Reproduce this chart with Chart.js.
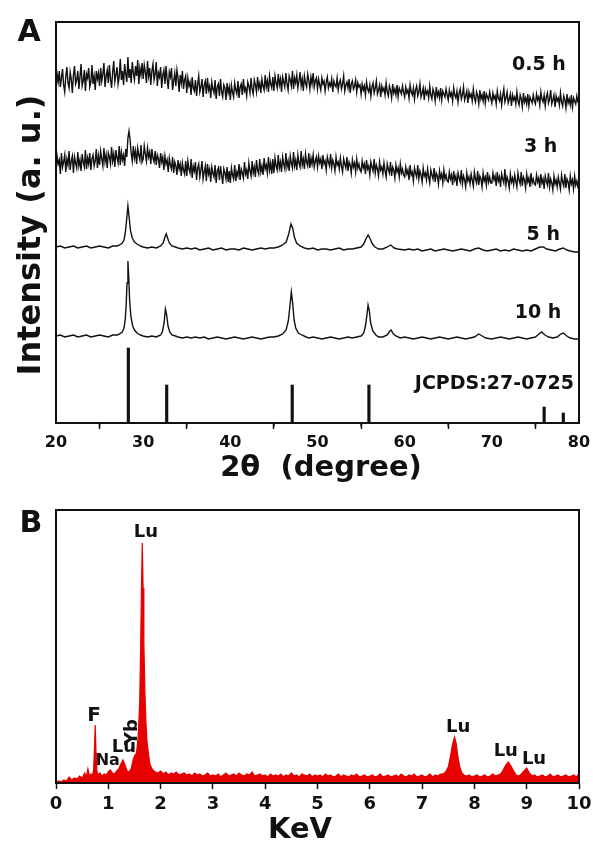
<!DOCTYPE html>
<html>
<head>
<meta charset="utf-8">
<script src="https://cdn.jsdelivr.net/npm/chart.js@4.4.1/dist/chart.umd.min.js"></script>
<style>
  html, body { margin: 0; background: #fff; }
  canvas { position: absolute; left: 0; }
  #xrd { top: 0; }
  #eds { top: 490px; }
</style>
</head>
<body>
<canvas id="xrd" width="593" height="490"></canvas>
<canvas id="eds" width="593" height="352"></canvas>
<script>
const FONT = 'DejaVu Sans';
const INK = '#111';

// ---- Panel A: XRD (2θ 20..80, stacked curves, intensity in a.u.) ----
const thetaStart = 20, thetaStep = 0.125;

// 0.5 h and 3 h: amorphous, noisy, one row per 5°
const i05h = [
  333, 349, 341, 352, 336, 345, 354, 338, 331, 347, 356, 340, 335, 351, 344, 330, 348, 357, 339, 343,
  352, 334, 346, 359, 337, 342, 353, 332, 349, 345, 355, 336, 341, 358, 339, 347, 333, 352, 344, 350,
  337, 355, 342, 349, 360, 336, 347, 353, 340, 358, 344, 335, 351, 362, 341, 348, 356, 339, 346, 364,
  343, 352, 338, 359, 349, 341, 366, 345, 354, 340, 361, 350, 343, 357, 347, 363, 339, 355, 348, 360,
  344, 358, 351, 340, 362, 347, 355, 338, 352, 359, 343, 349, 361, 337, 350, 346, 356, 335, 348, 353,
  339, 357, 344, 334, 351, 346, 355, 333, 342, 350, 337, 353, 345, 331, 348, 340, 352, 334, 343, 347,
  330, 345, 337, 341, 328, 346, 335, 332, 343, 327, 339, 347, 331, 336, 344, 326, 338, 342, 329, 345,
  333, 337, 325, 341, 334, 330, 343, 324, 336, 339, 327, 344, 331, 326, 338, 335, 323, 340, 330, 336,
  323, 338, 331, 326, 340, 333, 329, 342, 325, 336, 339, 328, 344, 332, 335, 327, 341, 337, 330, 345,
  334, 329, 343, 338, 331, 346, 335, 340, 330, 344, 337, 333, 348, 336, 342, 331, 347, 339, 335, 346,
  332, 347, 340, 335, 349, 338, 344, 331, 346, 341, 336, 350, 339, 333, 347, 343, 337, 352, 334, 345,
  340, 348, 335, 342, 351, 337, 344, 332, 347, 340, 336, 349, 343, 334, 346, 339, 350, 336, 342, 345,
  334, 344, 338, 333, 345, 339, 342, 332, 341, 346, 335, 340, 337, 344, 331, 342, 338, 336, 345, 333,
  340, 343, 334, 339, 347, 332, 338, 341, 335, 344, 330, 339, 342, 334, 337, 343, 331, 340, 336, 338,
  329, 339, 333, 337, 328, 341, 334, 331, 338, 327, 336, 340, 330, 335, 342, 329, 333, 338, 326, 337,
  332, 335, 328, 340, 331, 327, 337, 333, 325, 339, 330, 334, 328, 338, 326, 335, 332, 329, 337, 331,
  326, 336, 330, 333, 325, 338, 331, 328, 335, 324, 333, 337, 327, 331, 339, 326, 330, 335, 323, 334,
  329, 332, 325, 337, 328, 324, 334, 330, 322, 336, 327, 331, 325, 335, 323, 332, 329, 326, 334, 328,
  323, 333, 327, 330, 322, 335, 328, 325, 332, 321, 330, 334, 324, 328, 336, 323, 327, 332, 320, 331,
  326, 329, 322, 334, 325, 321, 331, 327, 319, 333, 324, 328, 322, 332, 320, 329, 326, 323, 331, 325,
  320, 330, 324, 327, 319, 332, 325, 322, 329, 318, 327, 334, 321, 325, 331, 320, 324, 329, 317, 328,
  323, 326, 319, 331, 322, 318, 328, 324, 316, 330, 321, 325, 319, 329, 317, 326, 323, 320, 328, 322,
  319, 329, 323, 326, 318, 331, 324, 321, 328, 317, 326, 330, 320, 324, 333, 319, 323, 328, 316, 327,
  322, 325, 318, 330, 321, 317, 327, 323, 315, 329, 320, 324, 318, 328, 316, 325, 322, 319, 327, 321,
  322
];
const i3h = [
  252, 267, 259, 263, 249, 270, 256, 261, 268, 251, 264, 258, 272, 253, 262, 267, 250, 266, 260, 255,
  271, 257, 263, 252, 269, 261, 256, 273, 254, 265, 259, 270, 253, 264, 268, 257, 262, 274, 255, 267,
  258, 272, 264, 257, 275, 261, 268, 255, 270, 266, 259, 276, 262, 269, 256, 273, 265, 260, 277, 258,
  271, 263, 268, 257, 274, 266, 285, 292, 283, 270, 262, 277, 265, 272, 259, 275, 268, 263, 278, 261,
  264, 277, 269, 262, 275, 266, 271, 259, 274, 265, 261, 272, 258, 268, 264, 255, 270, 261, 266, 253,
  267, 259, 263, 251, 265, 258, 254, 266, 250, 261, 257, 248, 263, 254, 259, 247, 260, 253, 249, 262,
  247, 262, 254, 250, 264, 245, 257, 252, 261, 243, 255, 259, 246, 253, 262, 244, 251, 257, 242, 259,
  249, 254, 241, 256, 250, 246, 258, 240, 252, 255, 243, 257, 248, 239, 254, 250, 244, 256, 241, 252,
  240, 255, 248, 244, 258, 242, 251, 247, 259, 243, 254, 250, 245, 261, 249, 253, 244, 260, 252, 247,
  262, 250, 256, 246, 263, 253, 249, 264, 251, 257, 248, 265, 254, 258, 250, 266, 253, 260, 249, 264,
  250, 265, 257, 253, 268, 255, 261, 251, 266, 259, 254, 270, 256, 262, 252, 267, 260, 255, 271, 257,
  263, 253, 268, 260, 256, 272, 258, 264, 254, 269, 261, 257, 270, 255, 265, 259, 268, 256, 262, 266,
  256, 267, 260, 264, 254, 268, 259, 262, 253, 266, 261, 257, 269, 255, 263, 259, 252, 266, 258, 261,
  254, 265, 257, 251, 264, 259, 255, 266, 252, 261, 258, 250, 263, 256, 260, 251, 264, 255, 259, 253,
  251, 262, 255, 259, 249, 263, 254, 257, 248, 261, 256, 252, 264, 250, 258, 254, 247, 261, 253, 256,
  249, 260, 252, 246, 259, 254, 250, 261, 247, 256, 253, 245, 258, 251, 255, 246, 259, 250, 254, 248,
  246, 256, 249, 253, 243, 258, 248, 251, 242, 255, 250, 246, 258, 244, 252, 248, 241, 255, 247, 250,
  243, 254, 246, 240, 253, 248, 244, 255, 241, 250, 247, 239, 252, 245, 249, 240, 253, 244, 248, 242,
  241, 251, 244, 248, 238, 252, 243, 247, 237, 250, 245, 241, 253, 239, 247, 243, 236, 250, 242, 246,
  239, 249, 243, 237, 251, 244, 240, 252, 238, 247, 244, 236, 250, 242, 246, 238, 251, 241, 246, 240,
  240, 250, 243, 247, 237, 251, 242, 246, 236, 249, 244, 240, 254, 238, 246, 242, 235, 249, 241, 245,
  238, 248, 242, 236, 250, 243, 239, 251, 237, 246, 243, 235, 249, 241, 245, 236, 250, 240, 244, 239,
  238, 248, 241, 245, 235, 249, 240, 244, 234, 247, 242, 238, 250, 236, 244, 240, 233, 247, 239, 243,
  236, 246, 240, 234, 248, 241, 237, 249, 235, 244, 241, 233, 247, 239, 243, 234, 247, 238, 242, 236,
  238
];

// 5 h and 10 h: crystalline, [2θ, intensity]
const h5 = [
  [20,176],[20.5,177],[21,175],[21.5,176],[22,177],[22.5,175],[23,176],[23.5,177],[24,175],[24.5,176],
  [25,177],[25.5,176],[26,175],[26.5,177],[27,177],[27.3,178],[27.6,180],[27.8,183],[27.95,190],[28.1,203],
  [28.25,217],[28.4,205],[28.55,192],[28.75,185],[29,181],[29.3,179],[29.7,177],[30,176],[30.5,175],[31,176],
  [31.5,175],[32,177],[32.3,180],[32.5,186],[32.65,189],[32.8,185],[33,180],[33.3,177],[33.7,176],[34,175],
  [34.5,174],[35,175],[35.5,174],[36,175],[36.5,173],[37,174],[37.5,175],[38,173],[38.5,174],[39,175],
  [39.5,173],[40,174],[40.5,174],[41,173],[41.5,175],[42,174],[42.5,173],[43,174],[43.5,175],[44,174],
  [44.5,175],[45,175],[45.5,176],[46,178],[46.4,181],[46.7,189],[46.95,199],[47.15,195],[47.35,186],[47.6,180],
  [48,177],[48.5,175],[49,174],[49.5,175],[50,173],[50.5,174],[51,174],[51.5,173],[52,174],[52.5,175],
  [53,173],[53.5,174],[54,174],[54.5,175],[55,176],[55.3,179],[55.55,184],[55.8,188],[56.05,184],[56.3,179],
  [56.6,176],[57,174],[57.5,174],[58,176],[58.4,178],[58.8,175],[59.2,174],[60,173],[60.5,174],[61,173],
  [61.5,174],[62,172],[62.5,173],[63,174],[63.5,172],[64,173],[64.5,174],[65,173],[65.5,172],[66,173],
  [66.5,174],[67,173],[67.5,172],[68,174],[68.5,175],[69,173],[69.5,172],[70,173],[70.5,174],[71,172],
  [71.5,173],[72,172],[72.5,174],[73,173],[73.5,172],[74,173],[74.5,172],[75,174],[75.5,176],[75.9,176],
  [76.3,174],[76.8,173],[77.3,172],[77.8,174],[78.2,175],[78.6,173],[79,172],[79.5,171],[80,171]
];
const h10 = [
  [20,87],[20.5,88],[21,86],[21.5,87],[22,88],[22.5,86],[23,87],[23.5,88],[24,86],[24.5,87],
  [25,88],[25.5,87],[26,86],[26.5,88],[27,88],[27.3,89],[27.6,91],[27.8,95],[27.95,104],[28.05,118],
  [28.15,140],[28.25,162],[28.35,145],[28.45,122],[28.6,106],[28.8,97],[29,93],[29.3,90],[29.7,88],[30,87],
  [30.5,86],[31,87],[31.5,86],[32,88],[32.2,91],[32.4,100],[32.55,114],[32.7,108],[32.85,97],[33.05,91],
  [33.3,88],[33.7,87],[34,86],[34.5,85],[35,86],[35.5,85],[36,86],[36.5,85],[37,86],[37.5,84],
  [38,85],[38.5,86],[39,85],[39.5,84],[40,85],[40.5,86],[41,85],[41.5,84],[42,85],[42.5,86],
  [43,85],[43.5,84],[44,85],[44.5,86],[45,86],[45.5,87],[46,89],[46.4,93],[46.65,102],[46.85,118],
  [47,131],[47.15,120],[47.3,104],[47.5,95],[47.8,90],[48.2,88],[48.7,86],[49,85],[49.5,86],[50,85],
  [50.5,84],[51,85],[51.5,86],[52,85],[52.5,84],[53,85],[53.5,86],[54,85],[54.5,86],[55,87],
  [55.3,90],[55.5,97],[55.7,110],[55.8,118],[55.95,112],[56.1,100],[56.35,92],[56.7,88],[57,86],[57.5,86],
  [58,88],[58.3,92],[58.45,93],[58.7,89],[59,87],[59.5,85],[60,86],[60.5,85],[61,84],[61.5,85],
  [62,86],[62.5,85],[63,84],[63.5,85],[64,86],[64.5,85],[65,84],[65.5,85],[66,86],[66.5,85],
  [67,84],[67.5,85],[68,86],[68.5,89],[68.9,87],[69.3,85],[70,84],[70.5,85],[71,86],[71.5,85],
  [72,84],[72.5,85],[73,86],[73.5,85],[74,84],[74.5,85],[75,86],[75.4,89],[75.7,91],[76.1,88],
  [76.5,86],[77,85],[77.5,86],[77.9,89],[78.2,90],[78.6,87],[79,85],[79.5,84],[80,84]
];

// JCPDS 27-0725 reference lines [2θ, relative height]
const jcpds = [[28.3,75],[32.7,38],[47.1,38],[55.9,38],[76.0,16],[78.2,10]];

const xrdMinor = [25, 35, 45, 55, 65, 75];
const xrdNotes = [
  { text: '0.5 h', x: 75.4, y: 358, size: 19 },
  { text: '3 h', x: 75.6, y: 276, size: 19 },
  { text: '5 h', x: 75.9, y: 188, size: 19 },
  { text: '10 h', x: 75.3, y: 110, size: 19 },
  { text: 'JCPDS:27-0725', x: 70.3, y: 39, size: 19 }
];

// ---- Panel B: EDS spectrum [keV, counts] ----
const eds = [
  [0,1],[0.05,2],[0.1,1],[0.15,3],[0.2,2],[0.25,6],[0.3,3],[0.35,5],[0.4,4],[0.45,7],
  [0.5,5],[0.55,10],[0.58,6],[0.61,14],[0.64,7],[0.67,9],[0.7,8],[0.72,14],[0.735,34],[0.75,58],
  [0.765,30],[0.78,13],[0.8,8],[0.84,10],[0.88,7],[0.92,9],[0.96,8],[1,11],[1.04,13],[1.08,10],
  [1.12,9],[1.16,12],[1.2,14],[1.24,19],[1.28,23],[1.32,18],[1.36,12],[1.4,11],[1.44,15],[1.48,24],
  [1.51,28],[1.54,30],[1.57,45],[1.6,80],[1.62,140],[1.635,200],[1.65,240],[1.665,195],[1.68,140],[1.7,90],
  [1.72,60],[1.74,42],[1.77,28],[1.8,18],[1.85,13],[1.9,11],[1.95,10],
  [2,12],[2.05,9],[2.1,11],[2.15,8],[2.2,10],[2.25,9],[2.3,11],[2.35,8],[2.4,9],[2.45,10],
  [2.5,8],[2.55,9],[2.6,7],[2.65,10],[2.7,8],[2.75,9],[2.8,7],[2.85,8],[2.9,10],[2.95,7],
  [3,8],[3.05,7],[3.1,9],[3.15,6],[3.2,8],[3.25,10],[3.3,7],[3.35,8],[3.4,9],[3.45,7],
  [3.5,10],[3.55,8],[3.6,7],[3.65,9],[3.7,8],[3.75,11],[3.8,7],[3.85,8],[3.9,9],[3.95,7],
  [4,8],[4.05,6],[4.1,9],[4.15,7],[4.2,8],[4.25,7],[4.3,9],[4.35,6],[4.4,8],[4.45,7],
  [4.5,10],[4.55,7],[4.6,8],[4.65,6],[4.7,9],[4.75,8],[4.8,7],[4.85,9],[4.9,6],[4.95,8],
  [5,7],[5.05,8],[5.1,6],[5.15,9],[5.2,7],[5.25,8],[5.3,6],[5.35,7],[5.4,9],[5.45,6],
  [5.5,8],[5.55,7],[5.6,6],[5.65,8],[5.7,7],[5.75,9],[5.8,6],[5.85,7],[5.9,8],[5.95,6],
  [6,7],[6.05,8],[6.1,6],[6.15,7],[6.2,9],[6.25,6],[6.3,7],[6.35,8],[6.4,6],[6.45,7],
  [6.5,8],[6.55,6],[6.6,9],[6.65,7],[6.7,6],[6.75,8],[6.8,7],[6.85,9],[6.9,6],[6.95,7],
  [7,8],[7.05,6],[7.1,7],[7.15,9],[7.2,6],[7.25,8],[7.3,7],[7.35,9],
  [7.4,9],[7.45,11],[7.5,16],[7.54,26],[7.58,38],[7.62,46],[7.65,40],[7.68,28],[7.72,16],[7.76,10],
  [7.8,8],[7.85,7],[7.9,8],[7.95,6],
  [8,7],[8.05,8],[8.1,6],[8.15,7],[8.2,8],[8.25,6],[8.3,7],[8.35,9],[8.4,7],[8.45,8],
  [8.5,9],[8.55,13],[8.6,18],[8.65,21],[8.7,17],[8.75,12],[8.8,8],[8.85,7],[8.9,9],[8.95,12],
  [9,15],[9.05,10],[9.1,7],[9.15,8],[9.2,6],
  [9.25,7],[9.3,8],[9.35,6],[9.4,7],[9.45,9],[9.5,6],[9.55,7],[9.6,8],[9.65,6],[9.7,7],
  [9.75,8],[9.8,6],[9.85,7],[9.9,8],[9.95,6],[10,9]
];
const edsNotes = [
  { text: 'Lu', x: 1.72, y: 251, size: 18 },
  { text: 'F', x: 0.73, y: 67, size: 20 },
  { text: 'Na', x: 0.99, y: 22, size: 16 },
  { text: 'Lu', x: 1.30, y: 36, size: 18 },
  { text: 'Yb', x: 1.45, y: 51, size: 18, rot: -Math.PI / 2 },
  { text: 'Lu', x: 7.69, y: 56, size: 18 },
  { text: 'Lu', x: 8.60, y: 32, size: 18 },
  { text: 'Lu', x: 9.14, y: 24, size: 18 }
];

// ---- helpers ----
const onGrid = vals => vals.map((v, i) => ({ x: thetaStart + i * thetaStep, y: v }));
const asXY = pts => pts.map(([x, y]) => ({ x, y }));
const bold = size => `bold ${size}px "${FONT}"`;

// frame box, minor ticks, panel letters, axis titles and peak labels
const decor = {
  id: 'decor',
  afterDraw(chart, args, opts) {
    const { ctx, chartArea: a, scales } = chart;
    ctx.save();
    ctx.strokeStyle = INK;
    ctx.lineWidth = 2;
    ctx.strokeRect(a.left, a.top, a.right - a.left, a.bottom - a.top);
    ctx.lineWidth = 1.5;
    (opts.minor || []).forEach(v => {
      const px = scales.x.getPixelForValue(v);
      ctx.beginPath();
      ctx.moveTo(px, a.bottom);
      ctx.lineTo(px, a.bottom + 3.5);
      ctx.stroke();
    });
    ctx.fillStyle = INK;
    ctx.textAlign = 'center';
    ctx.textBaseline = 'middle';
    const put = (t, x, y) => {
      ctx.save();
      ctx.font = bold(t.size);
      ctx.translate(x, y);
      if (t.rot) ctx.rotate(t.rot);
      ctx.fillText(t.text, 0, 0);
      ctx.restore();
    };
    (opts.fixed || []).forEach(t => put(t, t.x, t.y));
    (opts.notes || []).forEach(t => put(t, scales.x.getPixelForValue(t.x), scales.y.getPixelForValue(t.y)));
    ctx.restore();
  }
};

const xAxis = (min, max, step, labelSize, pad, height) => ({
  type: 'linear', min, max, offset: false,
  ticks: { stepSize: step, color: INK, padding: pad, maxRotation: 0, autoSkip: false,
           font: { family: FONT, weight: 'bold', size: labelSize } },
  grid: { drawOnChartArea: false, tickLength: 6, tickWidth: 1.5, tickColor: INK },
  border: { display: false },
  afterFit(s) { s.height = height; s.paddingLeft = 0; s.paddingRight = 0; }
});
const yAxis = max => ({
  min: 0, max,
  ticks: { display: false },
  grid: { display: false },
  border: { display: false },
  afterFit(s) { s.width = 56; }
});

new Chart(document.getElementById('xrd'), {
  type: 'line',
  data: {
    datasets: [
      { data: onGrid(i05h), borderColor: INK, borderWidth: 1.4 },
      { data: onGrid(i3h), borderColor: INK, borderWidth: 1.4 },
      { data: asXY(h5), borderColor: INK, borderWidth: 1.4 },
      { data: asXY(h10), borderColor: INK, borderWidth: 1.4 },
      { type: 'bar', data: asXY(jcpds), backgroundColor: INK, barThickness: 2.5, borderWidth: 0 }
    ]
  },
  options: {
    responsive: false,
    animation: false,
    layout: { padding: { left: 0, top: 22, right: 14, bottom: 0 } },
    elements: { point: { radius: 0 }, line: { tension: 0 } },
    plugins: {
      legend: { display: false },
      tooltip: { enabled: false },
      decor: {
        minor: xrdMinor,
        notes: xrdNotes,
        fixed: [
          { text: 'A', x: 29, y: 33, size: 30 },
          { text: 'Intensity (a. u.)', x: 32, y: 235, size: 32, rot: -Math.PI / 2 },
          { text: '2θ  (degree)', x: 321, y: 468, size: 29 }
        ]
      }
    },
    scales: { x: xAxis(20, 80, 10, 16, 4, 67), y: yAxis(401) }
  },
  plugins: [decor]
});

new Chart(document.getElementById('eds'), {
  type: 'line',
  data: {
    datasets: [
      { data: asXY(eds), borderColor: '#e60000', backgroundColor: '#e60000', borderWidth: 1.2, fill: 'origin' }
    ]
  },
  options: {
    responsive: false,
    animation: false,
    layout: { padding: { left: 0, top: 20, right: 14, bottom: 0 } },
    elements: { point: { radius: 0 }, line: { tension: 0 } },
    plugins: {
      legend: { display: false },
      tooltip: { enabled: false },
      decor: {
        notes: edsNotes,
        fixed: [
          { text: 'B', x: 31, y: 34, size: 30 },
          { text: 'KeV', x: 300, y: 340, size: 29 }
        ]
      }
    },
    scales: { x: xAxis(0, 10, 1, 18, 5, 59), y: yAxis(273) }
  },
  plugins: [decor]
});
</script>
</body>
</html>
